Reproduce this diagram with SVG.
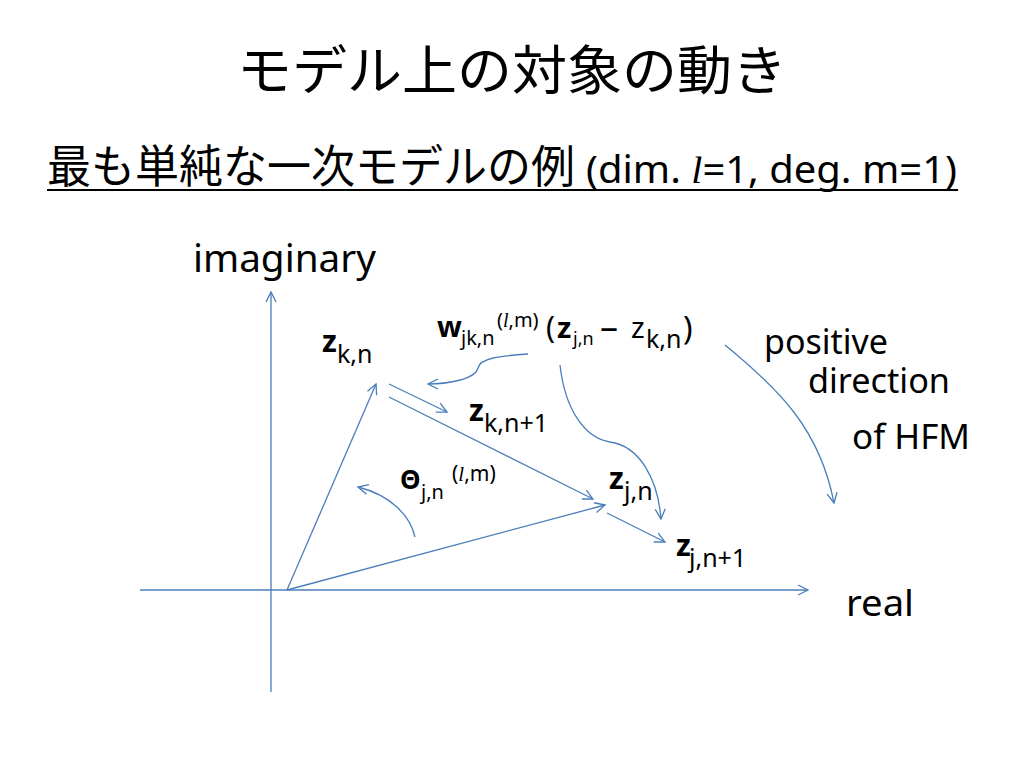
<svg xmlns="http://www.w3.org/2000/svg" width="1024" height="768" viewBox="0 0 1024 768">
<style>
.t{font-family:"Noto Sans","Liberation Sans",sans-serif;fill:#000}
.j{font-family:"Noto Sans CJK JP","Noto Sans",sans-serif;fill:#000}
.b{font-weight:bold}
.ln{fill:none;stroke:#4A7EBB;stroke-width:1.3}
.it{font-family:"Liberation Serif",serif;font-style:italic}
</style>
<defs>
<marker id="a" markerUnits="userSpaceOnUse" markerWidth="14" markerHeight="14" refX="11" refY="6" orient="auto" viewBox="0 0 14 12">
<path d="M1,1 L11,6 L1,11" fill="none" stroke="#4A7EBB" stroke-width="1.3"/>
</marker>
</defs>
<rect width="1024" height="768" fill="#fff"/>
<g id="title">
<text class="j" x="237" y="90" font-size="53" textLength="550" lengthAdjust="spacingAndGlyphs">モデル上の対象の動き</text>
</g>
<g id="subtitle">
<text class="j" x="47" y="183" font-size="45" textLength="528" lengthAdjust="spacingAndGlyphs">最も単純な一次モデルの例</text>
<text class="t" x="586" y="183" font-size="38" textLength="371" lengthAdjust="spacingAndGlyphs">(dim. <tspan class="it">l</tspan>=1, deg. m=1)</text>
<line x1="47" y1="190" x2="958" y2="190" stroke="#000" stroke-width="2"/>
</g>
<g id="connectors">
<line class="ln" x1="271" y1="692" x2="271" y2="292" marker-end="url(#a)"/>
<line class="ln" x1="140" y1="590" x2="808" y2="590" marker-end="url(#a)"/>
<line class="ln" x1="287" y1="590" x2="376" y2="384" marker-end="url(#a)"/>
<line class="ln" x1="287" y1="590" x2="605" y2="505" marker-end="url(#a)"/>
<line class="ln" x1="389" y1="397" x2="593" y2="499" marker-end="url(#a)"/>
<line class="ln" x1="389" y1="384" x2="447" y2="412" marker-end="url(#a)"/>
<line class="ln" x1="607" y1="513" x2="665" y2="542" marker-end="url(#a)"/>
<path class="ln" d="M528,354 C500,356 480,358 478,368 C475,380 445,384 428,384" marker-end="url(#a)"/>
<path class="ln" d="M560,365 C565,410 585,438 610,442 C640,446 658,480 661,519" marker-end="url(#a)"/>
<path class="ln" d="M415,537 C410,515 390,495 358,487" marker-end="url(#a)"/>
<path class="ln" d="M725,345 C780,390 820,430 834,503" marker-end="url(#a)"/>
</g>
<g id="axis-labels">
<text class="t" x="193" y="272" font-size="39" textLength="183" lengthAdjust="spacingAndGlyphs">imaginary</text>
<text class="t" x="846" y="616" font-size="37" textLength="68" lengthAdjust="spacingAndGlyphs">real</text>
</g>
<g id="hfm-label">
<text class="t" x="764" y="354" font-size="34" textLength="124" lengthAdjust="spacingAndGlyphs">positive</text>
<text class="t" x="808" y="393" font-size="34" textLength="142" lengthAdjust="spacingAndGlyphs">direction</text>
<text class="t" x="852" y="449" font-size="34" textLength="118" lengthAdjust="spacingAndGlyphs">of HFM</text>
</g>
<g id="z-k-n"><text class="t b" x="322" y="352" font-size="30">z</text><text class="t" x="337" y="363" font-size="25">k,n</text></g>
<g id="z-k-n1"><text class="t b" x="469" y="421" font-size="30">z</text><text class="t" x="484" y="432" font-size="25">k,n+1</text></g>
<g id="z-j-n"><text class="t b" x="609" y="489" font-size="30">z</text><text class="t" x="624" y="500" font-size="25">j,n</text></g>
<g id="z-j-n1"><text class="t b" x="676" y="556" font-size="30">z</text><text class="t" x="689" y="567" font-size="25">j,n+1</text></g>
<g id="w-label">
<text class="t b" x="437" y="337" font-size="29">w</text>
<text class="t" x="461" y="345" font-size="20">jk,n</text>
<text class="t" x="497" y="327" font-size="20">(<tspan class="it">l</tspan>,m)</text>
<text class="t" x="546" y="338" font-size="30">(</text>
<text class="t b" x="557" y="338" font-size="29">z</text>
<text class="t" x="573" y="345" font-size="18">j,n</text>
<text class="t" x="600" y="339" font-size="34" textLength="18" lengthAdjust="spacingAndGlyphs">–</text>
<text class="t" x="631" y="338" font-size="29">z</text>
<text class="t" x="646" y="348" font-size="25">k,n</text>
<text class="t" x="683" y="340" font-size="32">)</text>
</g>
<g id="theta-label">
<text class="t b" x="400" y="489" font-size="26">Θ</text>
<text class="t" x="421" y="499" font-size="20">j,n</text>
<text class="t" x="452" y="481" font-size="21">(<tspan class="it">l</tspan>,m)</text>
</g>
</svg>
